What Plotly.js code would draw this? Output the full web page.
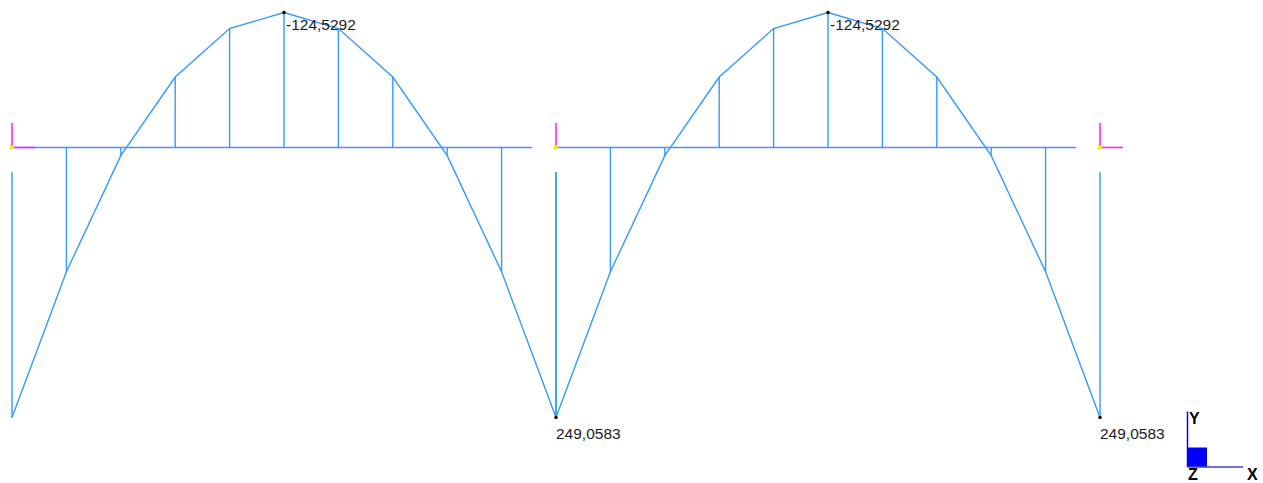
<!DOCTYPE html>
<html>
<head>
<meta charset="utf-8">
<script src="https://cdn.plot.ly/plotly-3.0.1.min.js"></script>
<style>html,body{margin:0;padding:0;background:#fff;}#chart{width:1263px;height:483px;}</style>
</head>
<body>
<div id="chart"></div>
<script>
// ---- data ----
const spanStarts = [0, 10];          // span start positions (beam units)
const spanLength = 10;
const stations = [0, 1, 2, 3, 4, 5, 6, 7, 8, 9, 10];   // positions along each span
const moments = [249.0583, 114.6, 7.5, -65.0, -109.7, -124.5292, -109.7, -65.0, 7.5, 114.6, 249.0583];
const supports = [0, 10, 20];
const maxLabel = "-124,5292";
const endLabel = "249,0583";

// ---- drawing helpers (style only) ----
const W = 1263, H = 483;
const pxPerX = 54.4, x0px = 12;
const pxPerM = 1.0841, basePx = 147.5;
const xRange = [-x0px / pxPerX, (W - x0px) / pxPerX];
const yRange = [(H - basePx) / pxPerM, -basePx / pxPerM];
const diagColor = '#3399ff';
const beamColor = '#4f8ef7';
const supportGap = 24.5 / pxPerM;        // gap below beam at support verticals
const beamEndGap = 24 / pxPerX;          // beam line stops short of next support

const traces = [];

// beam lines
const bx = [], by = [];
spanStarts.forEach(s => {
  bx.push(s, s + spanLength - beamEndGap, null);
  by.push(0, 0, null);
});
traces.push({x: bx, y: by, mode: 'lines', line: {color: beamColor, width: 1.4}, hoverinfo: 'skip'});

// moment diagram outline + hatch verticals
const dx = [], dy = [], vx = [], vy = [];
spanStarts.forEach(s => {
  stations.forEach((t, i) => {
    dx.push(s + t); dy.push(moments[i]);
    const isEnd = (i === 0 || i === stations.length - 1);
    vx.push(s + t, s + t, null);
    vy.push(isEnd ? supportGap : 0, moments[i], null);
  });
  dx.push(null); dy.push(null);
});
traces.push({x: dx, y: dy, mode: 'lines', line: {color: diagColor, width: 1.4}, hoverinfo: 'skip'});
traces.push({x: vx, y: vy, mode: 'lines', line: {color: diagColor, width: 1.4}, hoverinfo: 'skip'});

// support symbols (magenta)
const mx = [], my = [];
const symH = 24.5 / pxPerM, symW = 23 / pxPerX;
supports.forEach((s, k) => {
  mx.push(s, s, null); my.push(0, -symH, null);
  if (k !== 1) { mx.push(s, s + symW, null); my.push(0, 0, null); }
});
traces.push({x: mx, y: my, mode: 'lines', line: {color: '#ff22ff', width: 1.6}, hoverinfo: 'skip'});
traces.push({x: supports, y: supports.map(() => 0), mode: 'markers',
  marker: {symbol: 'square', size: 4, color: '#f0f000'}, hoverinfo: 'skip'});

// label points
const midIdx = moments.indexOf(Math.min(...moments));
const lblX = [spanStarts[0] + stations[midIdx], spanStarts[1] + stations[midIdx], supports[1], supports[2]];
const lblY = [moments[midIdx], moments[midIdx], moments[moments.length - 1], moments[moments.length - 1]];
traces.push({x: lblX, y: lblY, mode: 'markers', marker: {size: 3.5, color: '#000'}, hoverinfo: 'skip'});

const font = {family: 'Liberation Sans, Arial, sans-serif', size: 15.5, color: '#1a1a1a'};
const annotations = [];
[0, 1].forEach(k => annotations.push({x: lblX[k], y: lblY[k], xref: 'x', yref: 'y', text: maxLabel,
  showarrow: false, xanchor: 'left', yanchor: 'middle', xshift: 0, yshift: -11.5, font: font}));
[2, 3].forEach(k => annotations.push({x: lblX[k], y: lblY[k], xref: 'x', yref: 'y', text: endLabel,
  showarrow: false, xanchor: 'left', yanchor: 'middle', xshift: -2, yshift: -15.5, font: font}));

// coordinate triad (paper coords from pixels)
const px = v => v / W, py = v => 1 - v / H;
const shapes = [
  {type: 'rect', xref: 'paper', yref: 'paper', x0: px(1187.5), x1: px(1207), y0: py(467), y1: py(447.5),
   fillcolor: '#0000ff', line: {width: 0}},
  {type: 'line', xref: 'paper', yref: 'paper', x0: px(1187.5), x1: px(1187.5), y0: py(467), y1: py(411.5),
   line: {color: '#0000ee', width: 1.5}},
  {type: 'line', xref: 'paper', yref: 'paper', x0: px(1187.5), x1: px(1243), y0: py(467), y1: py(467),
   line: {color: '#4040c8', width: 1.5}}
];
const tf = {family: 'Liberation Sans, Arial, sans-serif', size: 16, color: '#000', weight: 'bold'};
[['Y', 1194, 418.5], ['Z', 1193, 474.5], ['X', 1252, 474.5]].forEach(([t, x, y]) =>
  annotations.push({xref: 'paper', yref: 'paper', x: px(x), y: py(y), text: '<b>' + t + '</b>',
    showarrow: false, xanchor: 'center', yanchor: 'middle', borderpad: 0, font: tf}));

const layout = {
  width: W, height: H,
  margin: {l: 0, r: 0, t: 0, b: 0, pad: 0},
  paper_bgcolor: '#fff', plot_bgcolor: '#fff',
  showlegend: false,
  xaxis: {range: xRange, visible: false, showgrid: false, zeroline: false, fixedrange: true},
  yaxis: {range: yRange, visible: false, showgrid: false, zeroline: false, fixedrange: true},
  annotations: annotations,
  shapes: shapes
};
Plotly.newPlot('chart', traces, layout, {displayModeBar: false, staticPlot: true});
</script>
</body>
</html>
